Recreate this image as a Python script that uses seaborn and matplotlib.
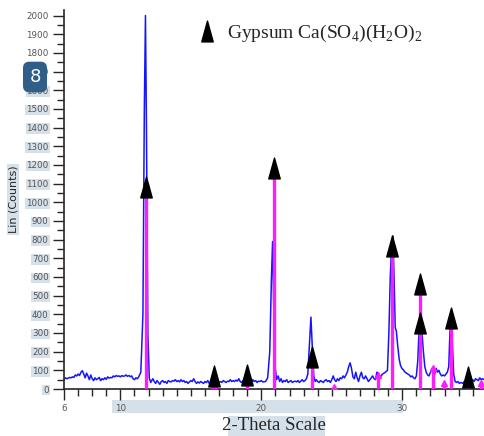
"""
XRD pattern of the gypsum sample with the reference stick pattern on top
"""

import numpy as np
import pandas as pd
import seaborn as sns
import matplotlib.pyplot as plt
from matplotlib.path import Path
from matplotlib.patches import Rectangle

two_theta = [6.0, 6.1, 6.2, 6.3, 6.4, 6.5, 6.6, 6.7, 6.8, 6.9, 7.0, 7.1, 7.2, 7.3, 7.4, 7.5, 7.6, 7.7, 7.8, 7.9,
             8.0, 8.1, 8.2, 8.3, 8.4, 8.5, 8.6, 8.7, 8.8, 8.9, 9.0, 9.1, 9.2, 9.3, 9.4, 9.5, 9.6, 9.7, 9.8, 9.9,
             10.0, 10.1, 10.2, 10.3, 10.4, 10.5, 10.6, 10.7, 10.8, 10.9, 11.0, 11.1, 11.2, 11.3, 11.45, 11.6,
             11.7, 11.78, 11.85, 11.95, 12.05, 12.15, 12.3, 12.4, 12.5, 12.6, 12.7, 12.8, 12.9, 13.0, 13.1, 13.2,
             13.3, 13.4, 13.5, 13.6, 13.7, 13.8, 13.9, 14.0, 14.1, 14.2, 14.3, 14.4, 14.5, 14.6, 14.7, 14.8,
             14.9, 15.0, 15.1, 15.2, 15.3, 15.4, 15.5, 15.6, 15.7, 15.8, 15.9, 16.0, 16.1, 16.2, 16.3, 16.4,
             16.5, 16.6, 16.7, 16.8, 16.9, 17.0, 17.1, 17.2, 17.3, 17.4, 17.5, 17.6, 17.7, 17.8, 17.9, 18.0,
             18.1, 18.2, 18.3, 18.4, 18.5, 18.6, 18.7, 18.8, 18.9, 19.0, 19.1, 19.2, 19.3, 19.4, 19.5, 19.6,
             19.7, 19.8, 19.9, 20.0, 20.1, 20.3, 20.45, 20.6, 20.72, 20.8, 20.88, 20.98, 21.08, 21.2, 21.3,
             21.4, 21.5, 21.6, 21.7, 21.8, 21.9, 22.0, 22.1, 22.2, 22.3, 22.4, 22.5, 22.6, 22.7, 22.8, 22.9,
             23.0, 23.1, 23.2, 23.3, 23.42, 23.52, 23.62, 23.72, 23.82, 23.9, 24.0, 24.1, 24.2, 24.3, 24.4,
             24.5, 24.6, 24.7, 24.8, 24.9, 25.0, 25.1, 25.2, 25.3, 25.4, 25.5, 25.6, 25.7, 25.8, 25.9, 26.0,
             26.1, 26.2, 26.3, 26.4, 26.5, 26.6, 26.7, 26.8, 26.9, 27.0, 27.1, 27.2, 27.3, 27.4, 27.5, 27.6,
             27.7, 27.8, 27.9, 28.0, 28.1, 28.2, 28.3, 28.4, 28.5, 28.6, 28.7, 28.8, 28.95, 29.05, 29.15,
             29.25, 29.33, 29.42, 29.5, 29.58, 29.68, 29.78, 29.88, 29.98, 30.1, 30.2, 30.3, 30.4, 30.5,
             30.6, 30.7, 30.8, 30.9, 31.0, 31.1, 31.2, 31.3, 31.4, 31.5, 31.6, 31.7, 31.8, 31.9, 32.0, 32.1,
             32.2, 32.3, 32.4, 32.5, 32.6, 32.7, 32.8, 32.9, 33.0, 33.1, 33.2, 33.3, 33.38, 33.45, 33.55,
             33.65, 33.75, 33.85, 33.95, 34.05, 34.15, 34.3, 34.4, 34.5, 34.6, 34.7, 34.8, 34.9, 35.0, 35.1,
             35.2, 35.3, 35.4, 35.5, 35.6, 35.7, 35.8]
counts = [50, 60, 55, 58, 62, 60, 65, 62, 75, 70, 80, 72, 90, 98, 80, 60, 85, 70, 50, 75,
          55, 45, 60, 50, 55, 62, 45, 55, 50, 60, 52, 65, 58, 62, 60, 70, 65, 72, 68, 70,
          65, 72, 68, 70, 75, 68, 72, 66, 70, 55, 50, 60, 55, 65, 90, 400,
          1500, 2000, 1400, 300, 60, 35, 55, 40, 30, 45, 35, 25, 40, 45, 35, 40,
          30, 45, 40, 38, 45, 42, 50, 40, 45, 38, 50, 40, 45, 35, 40, 30,
          38, 45, 40, 55, 40, 30, 38, 32, 40, 35, 30, 40, 35, 45, 30, 28,
          25, 25, 28, 25, 30, 35, 40, 35, 45, 40, 35, 42, 40, 50, 40, 45,
          40, 48, 42, 55, 40, 35, 45, 30, 35, 30, 40, 45, 35, 50, 40, 45,
          35, 42, 40, 45, 38, 40, 60, 200, 600, 790, 450, 120, 50, 70, 40,
          55, 35, 45, 40, 50, 35, 40, 45, 35, 40, 42, 38, 45, 35, 42, 50,
          40, 45, 55, 80, 250, 385, 220, 70, 40, 50, 40, 35, 45, 40, 35,
          45, 50, 40, 45, 35, 50, 70, 50, 40, 55, 45, 60, 55, 70, 60, 75,
          90, 120, 140, 110, 65, 55, 90, 60, 40, 70, 90, 60, 55, 70, 55, 40,
          50, 60, 70, 55, 50, 90, 85, 60, 70, 80, 85, 90, 100, 300, 600,
          780, 820, 600, 330, 310, 230, 160, 125, 110, 100, 90, 85, 80, 75,
          65, 70, 60, 55, 70, 150, 330, 370, 300, 200, 120, 90, 75, 70, 90, 110,
          95, 80, 110, 90, 100, 80, 70, 75, 70, 80, 90, 120, 300, 380, 250,
          80, 40, 35, 40, 30, 35, 30, 40, 35, 50, 60, 45, 40, 50, 40,
          55, 50, 45, 60, 50, 55, 50]

# reference sticks (magenta)
stick_pos = [11.8, 16.65, 18.95, 20.9, 23.6, 25.15, 28.3, 29.3, 31.25, 32.2, 32.95, 33.45, 34.7, 35.6]
stick_int = [1100, 20, 35, 1190, 160, 12, 75, 770, 570, 113, 32, 385, 64, 32]

# gypsum markers (black triangles)
gyp_pos = [11.8, 16.65, 18.95, 20.9, 23.6, 29.3, 31.25, 31.25, 33.45, 34.7]
gyp_int = [1083, 70, 75, 1185, 170, 767, 563, 354, 381, 64]

df = pd.DataFrame({'2theta': two_theta, 'counts': counts})

sns.set_style('ticks')
plt.rcParams['font.family'] = ['DejaVu Sans']
plt.rcParams['mathtext.fontset'] = 'custom'
plt.rcParams['mathtext.rm'] = 'Liberation Serif'

fig = plt.figure(figsize=(4.84, 4.36), dpi=100)
ax = fig.add_axes([64 / 484, 47 / 436, 420 / 484, 379 / 436])

sns.lineplot(data=df, x='2theta', y='counts', color='#1414ff', lw=1.1, ax=ax)

ax.vlines(stick_pos, 0, stick_int, color='#ff1cff', lw=2.4, zorder=3)
ax.plot(stick_pos, stick_int, ls='none', marker='^', ms=5, color='#ff1cff', zorder=4)

tri = Path([(-0.55, -1), (0.55, -1), (0, 1), (-0.55, -1)], [1, 2, 2, 79])
ax.plot(gyp_pos, gyp_int, ls='none', marker=tri, ms=15, color='black', zorder=5,
        label=r'Gypsum Ca(SO$_4$)(H$_2$O)$_2$')

leg = ax.legend(loc='upper left', bbox_to_anchor=(0.275, 1.012), frameon=False, handlelength=1.0,
                handletextpad=0.55, prop={'family': 'Liberation Serif', 'size': 14})

ax.set_xlim(6, 35.8)
ax.set_ylim(0, 2030)
ax.set_xticks([6, 10, 20, 30])
ax.set_xticks(np.arange(7, 36), minor=True)
ax.set_yticks(np.arange(0, 2001, 100))
ax.set_yticks(np.arange(50, 2000, 100), minor=True)

sns.despine(ax=ax)
ax.spines['left'].set_linewidth(1.2)
ax.spines['bottom'].set_linewidth(1.2)
ax.tick_params(axis='y', which='major', length=8, width=1, labelsize=6.3, labelcolor='#555555', pad=3)
ax.tick_params(axis='y', which='minor', length=5, width=1)
ax.tick_params(axis='x', which='major', length=8, width=1, labelsize=6.3, labelcolor='#555555', pad=3)
ax.tick_params(axis='x', which='minor', length=5, width=1)

# the scan has highlighted label backgrounds
for lab in ax.get_yticklabels():
    if float(lab.get_text().replace('\u2212', '-')) <= 1600:
        lab.set_bbox(dict(facecolor='#d5e0e8', edgecolor='none', pad=0.6))
fig.add_artist(Rectangle((112 / 484, 23 / 436), 291 / 484, 13 / 436, transform=fig.transFigure,
                         facecolor='#d5e0e8', edgecolor='none', zorder=0))
fig.add_artist(Rectangle((228 / 484, 0), 97 / 484, 20 / 436, transform=fig.transFigure,
                         facecolor='#d5e0e8', edgecolor='none', zorder=0))

ax.set_xlabel('2-Theta Scale', family='Liberation Serif', fontsize=13.5, labelpad=3)
ax.set_ylabel('Lin (Counts)', fontsize=8, labelpad=6,
              bbox=dict(facecolor='#d5e0e8', edgecolor='none', pad=1))

fig.text(35 / 484, 1 - 77 / 436, '8', color='white', fontsize=13, ha='center', va='center',
         bbox=dict(boxstyle='round,pad=0.35', facecolor='#2f5f88', edgecolor='none'))

plt.savefig('out.png', dpi=100)
